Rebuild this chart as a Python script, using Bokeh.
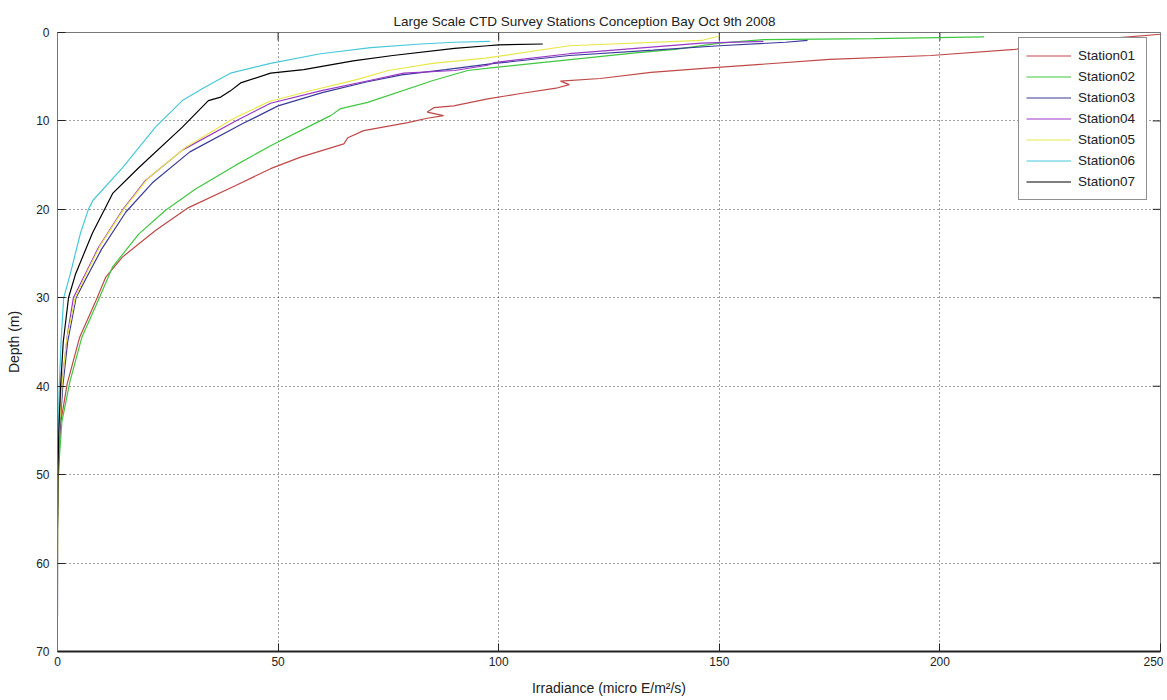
from bokeh.plotting import figure
from bokeh.models import Range1d, FixedTicker, Legend, LegendItem
from bokeh.embed import file_html
from bokeh.resources import INLINE

title_text = "Large Scale CTD Survey Stations Conception Bay Oct 9th 2008"
x_label = "Irradiance (micro E/m\u00b2/s)"
y_label = "Depth (m)"
x_ticks = [0, 50, 100, 150, 200, 250]
y_ticks = [0, 10, 20, 30, 40, 50, 60, 70]
stations = ["Station01", "Station02", "Station03", "Station04", "Station05", "Station06", "Station07"]
colors = ["#c04848", "#3fc83f", "#3a3a9a", "#9a38c8", "#e8e84a", "#48c8d8", "#000000"]

st01_depth = [0.2, 0.6, 1.5, 1.9, 2.6, 3.05, 4.0, 4.5, 5.2, 5.5, 5.9, 6.3, 6.9, 7.5, 8.3, 8.5, 9.0, 9.4, 9.7, 10.2, 11.1, 11.9, 12.6, 14.1, 15.4, 17.3, 19.8, 22.4, 25.4, 27.7, 30.0, 34.5, 39.7, 44.2, 49.5, 52.0]
st01_irr = [250, 240, 225, 217, 198, 175, 148, 134.5, 123, 114, 116, 113, 105, 97.5, 89.8, 85.3, 83.8, 87.5, 83.8, 79.4, 69.4, 65.8, 64.9, 55.1, 48.3, 40.4, 29.7, 22.2, 14.7, 10.9, 9.0, 5.0, 2.2, 0.7, 0.1, 0.0]

st02_depth = [0.5, 0.7, 0.8, 1.2, 1.9, 2.3, 3.5, 4.0, 4.3, 5.4, 7.9, 8.6, 9.4, 11.1, 12.8, 15.0, 17.7, 20.1, 22.8, 26.5, 30.0, 34.5, 39.5, 44.0, 49.0, 55.0]
st02_irr = [210, 185, 160, 150, 140, 131, 108, 98.2, 93, 85.3, 70.3, 64.2, 61.9, 55.1, 48.3, 40.4, 31.3, 24.5, 18.4, 12.5, 9.5, 5.5, 2.8, 1.0, 0.3, 0.0]

st03_depth = [0.9, 1.1, 1.5, 2.0, 2.6, 3.5, 4.2, 4.8, 5.6, 6.8, 8.3, 10.3, 13.5, 17.0, 20.3, 24.5, 27.5, 30.0, 35.0, 40.0, 45.0, 50.0, 55.0, 66.0]
st03_irr = [170, 165, 150, 135, 116, 99, 88, 78, 70, 60, 50, 42, 30, 21.5, 15.5, 10.0, 6.8, 4.2, 2.3, 1.2, 0.5, 0.2, 0.05, 0.0]

st04_depth = [1.0, 1.2, 1.8, 2.4, 3.4, 3.7, 4.3, 4.6, 5.4, 6.6, 8.0, 10.0, 13.3, 16.7, 20.1, 24.3, 27.3, 30.0, 34.0, 39.7, 44.0, 50.0, 55.0]
st04_irr = [160, 146, 131, 116, 99, 97.5, 90, 78.5, 71, 59.6, 48.3, 40.4, 28.3, 20.0, 14.7, 9.3, 6.3, 3.6, 2.3, 1.0, 0.4, 0.1, 0.0]

st05_depth = [0.4, 0.9, 1.5, 2.9, 3.5, 4.3, 5.3, 6.5, 7.8, 9.7, 13.0, 16.5, 20.0, 24.0, 27.0, 30.0, 35.0, 40.0, 45.0, 50.0, 56.0, 62.0]
st05_irr = [150, 146, 116, 97, 85, 75, 68, 58, 48, 40, 29, 20.5, 15.0, 9.8, 6.8, 4.0, 2.0, 1.0, 0.4, 0.15, 0.05, 0.0]

st06_depth = [1.0, 1.1, 1.3, 1.7, 2.4, 3.5, 4.6, 5.2, 6.3, 7.7, 10.7, 15.3, 19.0, 20.0, 22.7, 27.3, 30.0, 35.0, 40.0, 46.0, 50.0]
st06_irr = [98, 90, 82.3, 71, 59.6, 48.3, 39.2, 37, 33, 28.3, 22.2, 14.7, 8.0, 7.0, 5.2, 2.9, 1.4, 0.8, 0.4, 0.1, 0.0]

st07_depth = [1.3, 1.4, 1.5, 1.8, 2.6, 3.2, 4.2, 4.6, 5.7, 6.6, 7.3, 7.7, 10.7, 15.3, 18.2, 22.7, 27.3, 30.0, 35.0, 40.0, 45.0, 50.0, 56.0]
st07_irr = [110, 100, 97.5, 90, 76, 67, 55.8, 48.3, 41.5, 39.2, 37, 34.2, 28.3, 18.4, 12.5, 7.9, 4.1, 2.5, 1.3, 0.7, 0.3, 0.1, 0.0]

series = [(st01_irr, st01_depth), (st02_irr, st02_depth), (st03_irr, st03_depth),
          (st04_irr, st04_depth), (st05_irr, st05_depth), (st06_irr, st06_depth),
          (st07_irr, st07_depth)]

FONT = "Liberation Sans"
X_MIN, X_MAX = x_ticks[0], x_ticks[-1]
Y_MIN, Y_MAX = y_ticks[0], y_ticks[-1]

p = figure(width=1163, height=698, output_backend="svg", toolbar_location=None,
           x_range=Range1d(X_MIN, X_MAX), y_range=Range1d(Y_MAX, Y_MIN),
           min_border_left=57, min_border_right=3, min_border_top=32, min_border_bottom=47)

p.title.text = title_text
p.title.align = "left"
p.title.offset = 336
p.title.text_font = FONT
p.title.text_font_size = "13.5px"
p.title.text_font_style = "normal"
p.title.text_color = "#222222"
p.title.standoff = 8

p.outline_line_color = "#777777"
p.outline_line_width = 1
p.background_fill_color = "white"
p.border_fill_color = "white"

for ax, ticks in ((p.xaxis, x_ticks), (p.yaxis, y_ticks)):
    ax.ticker = FixedTicker(ticks=ticks)
    ax.major_tick_in = 8
    ax.major_tick_out = 0
    ax.minor_tick_line_color = None
    ax.major_label_text_font = FONT
    ax.major_label_text_font_size = "12px"
    ax.major_label_text_color = "#222222"
    ax.axis_label_text_font = FONT
    ax.axis_label_text_font_size = "14px"
    ax.axis_label_text_font_style = "normal"
    ax.axis_label_text_color = "#222222"
    ax.major_tick_line_color = "#222222"

p.xaxis.axis_line_color = "#222222"
p.xaxis.axis_line_width = 2
p.yaxis.axis_line_color = "#777777"
p.xaxis.axis_label = x_label
p.yaxis.axis_label = y_label
p.xaxis.major_label_standoff = 5
p.xaxis.axis_label_standoff = 11
p.yaxis.major_label_standoff = 8
p.yaxis.axis_label_standoff = 11

for g in (p.xgrid, p.ygrid):
    g.grid_line_color = "#444444"
    g.grid_line_dash = "1 3"
    g.grid_line_width = 1
p.xgrid.ticker = FixedTicker(ticks=x_ticks[1:-1])
p.ygrid.ticker = FixedTicker(ticks=y_ticks[1:-1])

# mirrored inward tick marks on the top and right frame edges (MATLAB box style)
tick_len_y = (Y_MAX - Y_MIN) * 0.013
tick_len_x = (X_MAX - X_MIN) * 0.007
inner_x = x_ticks[1:-1]
inner_y = y_ticks[1:-1]
p.segment(x0=inner_x, x1=inner_x, y0=[Y_MIN] * len(inner_x), y1=[Y_MIN + tick_len_y] * len(inner_x),
          line_color="#222222", line_width=1)
p.segment(x0=[X_MAX] * len(inner_y), x1=[X_MAX - tick_len_x] * len(inner_y), y0=inner_y, y1=inner_y,
          line_color="#222222", line_width=1)

items = []
for name, color, (irr, dep) in zip(stations, colors, series):
    r = p.line(x=irr, y=dep, line_color=color, line_width=1.2)
    items.append(LegendItem(label=name, renderers=[r]))

legend = Legend(items=items, location=(961, 451))
legend.label_text_font = FONT
legend.label_text_font_size = "13.5px"
legend.label_text_color = "#222222"
legend.glyph_width = 45
legend.glyph_height = 21
legend.label_height = 21
legend.label_width = 61
legend.spacing = 0
legend.padding = 7
legend.margin = 0
legend.label_standoff = 7
legend.border_line_color = "#222222"
legend.border_line_width = 1
legend.background_fill_color = "white"
legend.background_fill_alpha = 1
p.add_layout(legend, "center")

open("out.html", "w").write(file_html(p, INLINE))
